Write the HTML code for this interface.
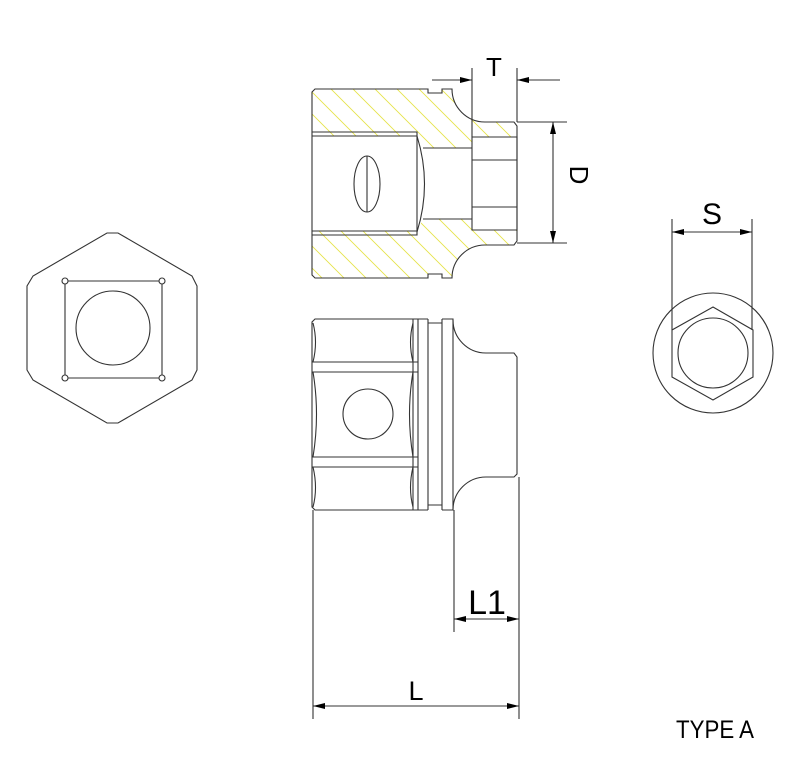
<!DOCTYPE html>
<html><head><meta charset="utf-8"><style>html,body{margin:0;padding:0;background:#fff}svg{display:block}</style></head>
<body>
<svg width="800" height="773" viewBox="0 0 800 773" xmlns="http://www.w3.org/2000/svg" font-family="Liberation Sans, sans-serif">
<defs>
<pattern id="h" patternUnits="userSpaceOnUse" width="22" height="22">
<path d="M-11,-11 L33,33 M-11,11 L11,33 M11,-11 L33,11" stroke="#e6e24a" stroke-width="0.9"/>
</pattern>
<clipPath id="ct"><path d="M312,92 L315,89 L428,89 L428,93 L442,93 L442,89 L452,89 A33,33 0 0 0 485,122 L514,122 L517,126 L517,137 L472,137 L472,148 L423,148 L417,136 L312,136 Z"/></clipPath>
<clipPath id="cb"><path d="M312,92 L315,89 L428,89 L428,93 L442,93 L442,89 L452,89 A33,33 0 0 0 485,122 L514,122 L517,126 L517,137 L472,137 L472,148 L423,148 L417,136 L312,136 Z" transform="translate(0,367) scale(1,-1)"/></clipPath>
<marker id="a" viewBox="0 0 12 6" refX="12" refY="3" markerWidth="12" markerHeight="6" orient="auto" markerUnits="userSpaceOnUse"><path d="M0,0 L12,3 L0,6 Z" fill="#000"/></marker>
</defs>
<g fill="none" stroke="#333" stroke-width="1.1">
<rect x="300" y="80" width="230" height="210" fill="url(#h)" clip-path="url(#ct)" stroke="none"/>
<rect x="300" y="80" width="230" height="210" fill="url(#h)" clip-path="url(#cb)" stroke="none"/>
<path d="M312,92 L315,89 L428,89 L428,93 L442,93 L442,89 L452,89 A33,33 0 0 0 485,122 L514,122 L517,126 L517,241 L514,245 L485,245 A33,33 0 0 0 452,278 L442,278 L442,274 L428,274 L428,278 L315,278 L312,275 Z"/>
<path d="M312,132 L417,132 L417,235 L312,235 M312,136 L417,136 M312,231 L417,231"/>
<path d="M417,136 Q432,184 417,232"/>
<path d="M423,148 L472,148 M423,219 L472,219"/>
<path d="M472,137 L517,137 L517,230 L472,230 Z M472,160 L517,160 M472,207 L517,207"/>
<ellipse cx="367" cy="184" rx="13" ry="28"/>
<path d="M367,156 L367,212"/>
<path d="M472,68 L472,137 M517,68 L517,122"/>
<path d="M432,80 L472,80" marker-end="url(#a)"/>
<path d="M560,80 L517,80" marker-end="url(#a)"/>
<path d="M517,122 L567,122 M517,243 L567,243"/>
<path d="M553,183 L553,122" marker-end="url(#a)"/>
<path d="M553,183 L553,243" marker-end="url(#a)"/>
<path d="M315,319 L418,319 L418,510 L315,510 L312,507 L312,322 Z"/>
<path d="M413,319 L413,510 M428,319 L428,510 M442,319 L442,510 M418,319 L428,319 M418,510 L428,510 M428,323 L442,323 M428,505 L442,505 M442,319 L453,319 L453,510 L442,510"/>
<path d="M453,320 A33,33 0 0 0 486,353 L514,353 L517,357 L517,474 L514,477 L486,477 A33,33 0 0 0 453,510"/>
<path d="M312,362 L418,362 M312,372 L418,372 M312,457 L418,457 M312,467 L418,467"/>
<path d="M313,323 Q318,342 313,362 M313,372 Q320,414 313,457 M313,467 Q318,488 313,507 M413,323 Q408,342 413,362 M413,372 Q406,414 413,457 M413,467 Q408,488 413,507"/>
<circle cx="368" cy="414" r="25"/>
<path d="M313,510 L313,719 M519,477 L519,719 M454,510 L454,632"/>
<path d="M416,706 L313,706" marker-end="url(#a)"/>
<path d="M416,706 L519,706" marker-end="url(#a)"/>
<path d="M486,619 L454,619" marker-end="url(#a)"/>
<path d="M486,619 L519,619" marker-end="url(#a)"/>
<path d="M107,233 L118,233 L192,276 L197,286 L197,370 L192,380 L118,423 L107,423 L33,380 L27,370 L27,286 L33,276 Z"/>
<path d="M68,281 L159,281 M162,284 L162,375 M159,378 L68,378 M65,375 L65,284"/>
<circle cx="65" cy="281" r="3"/><circle cx="162" cy="281" r="3"/><circle cx="65" cy="378" r="3"/><circle cx="162" cy="378" r="3"/>
<circle cx="113" cy="328" r="37"/>
<circle cx="713" cy="353" r="60"/>
<path d="M713,307 L753,330 L753,377 L713,400 L672,377 L672,330 Z"/>
<circle cx="713" cy="353" r="35"/>
<path d="M672,219 L672,330 M752,219 L752,330"/>
<path d="M712,232 L672,232" marker-end="url(#a)"/>
<path d="M712,232 L752,232" marker-end="url(#a)"/>
</g>
<g fill="#000">
<text x="494" y="76" font-size="26" text-anchor="middle">T</text>
<text x="562" y="183" font-size="26" text-anchor="middle" transform="rotate(90 570 183)">D</text>
<text x="712" y="224" font-size="30" text-anchor="middle">S</text>
<text x="487" y="614" font-size="34" text-anchor="middle">L1</text>
<text x="416" y="700" font-size="27" text-anchor="middle">L</text>
<text x="676" y="738" font-size="25" textLength="78" lengthAdjust="spacingAndGlyphs">TYPE A</text>
</g>
</svg>
</body></html>
